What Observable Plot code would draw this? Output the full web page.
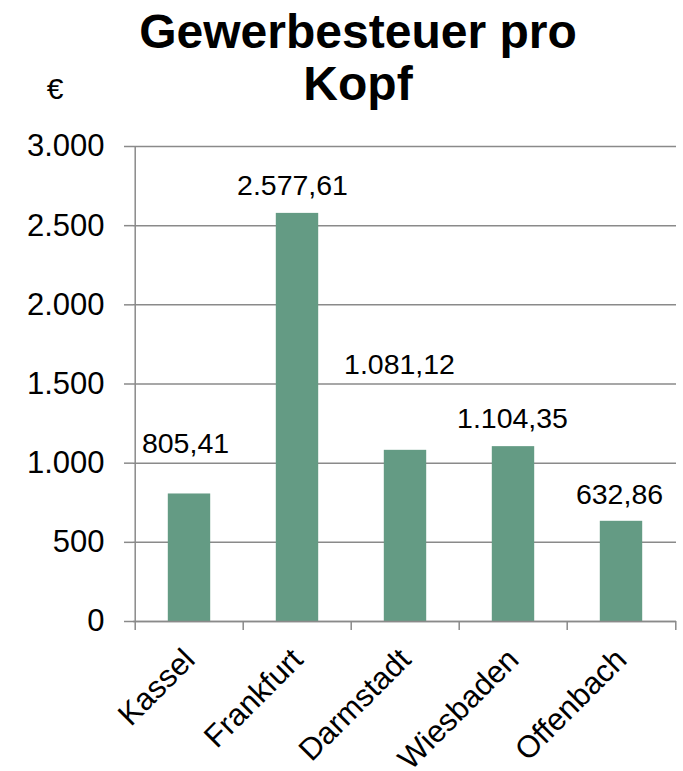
<!DOCTYPE html>
<html><head><meta charset="utf-8">
<script src="https://cdn.jsdelivr.net/npm/d3@7"></script>
<script src="https://cdn.jsdelivr.net/npm/@observablehq/plot@0.6"></script>
<style>body{margin:0;background:#fff}</style>
</head><body><div id="chart"></div>
<script>
// ---- data ----
const cities = ["Kassel", "Frankfurt", "Darmstadt", "Wiesbaden", "Offenbach"];
const values = [805.41, 2577.61, 1081.12, 1104.35, 632.86];
const yTicks = [0, 500, 1000, 1500, 2000, 2500, 3000];
const titleLines = ["Gewerbesteuer pro", "Kopf"];
const unitLabel = "€";

// ---- layout / style ----
const W = 683, H = 771, mL = 133, mR = 7, mT = 146, mB = 150;
const bw = (W - mL - mR) / cities.length;
const barW = 43;
const labelNudge = [[-4, -50], [-5, -28], [-6, -85], [-1, -28], [-2, -26]];
const font = "'Liberation Sans', Arial, sans-serif";
const gray = "#8a8a8a";
const barColor = "#649b84";

const de = d3.formatLocale({decimal: ",", thousands: ".", grouping: [3], currency: ["", "€"]});
const fmtTick = de.format(",d");
const fmtVal = de.format(",.2f");

const data = cities.map((c, i) => ({city: c, value: values[i]}));

const labelMarks = data.map((d, i) => Plot.text([d], {
  x: "city", y: "value", text: r => fmtVal(r.value),
  dx: labelNudge[i][0], dy: labelNudge[i][1], fontSize: 28.5, fill: "#000"
}));

const plot = Plot.plot({
  width: W, height: H,
  marginLeft: mL, marginRight: mR, marginTop: mT, marginBottom: mB,
  style: {fontFamily: font, background: "#fff", color: "#000"},
  x: {domain: cities, padding: 0, label: null, axis: null},
  y: {domain: [0, 3000], label: null, axis: null},
  marks: [
    Plot.gridY(yTicks, {stroke: gray, strokeOpacity: 1, strokeWidth: 1.5}),
    Plot.barY(data, {x: "city", y: "value", fill: barColor,
      insetLeft: (bw - barW) / 2, insetRight: (bw - barW) / 2}),
    Plot.axisY(yTicks, {tickFormat: fmtTick, tickSize: 9, tickPadding: 20, fontSize: 31,
      stroke: gray, strokeWidth: 1.5, strokeOpacity: 1, label: null, color: "#000", fill: "#000"}),
    Plot.ruleX([cities[0]], {dx: -bw / 2, y1: 0, y2: 3000, stroke: gray, strokeWidth: 1.5}),
    Plot.ruleY([0], {stroke: gray, strokeWidth: 1.5}),
    Plot.axisX(cities, {tickSize: 9, dx: -bw / 2, tickFormat: () => "", stroke: gray,
      strokeWidth: 1.5, strokeOpacity: 1, label: null}),
    Plot.axisX([cities[cities.length - 1]], {tickSize: 9, dx: bw / 2, tickFormat: () => "",
      stroke: gray, strokeWidth: 1.5, strokeOpacity: 1, label: null}),
    Plot.text(cities, {x: d => d, y: () => 0, text: d => d, rotate: -45,
      textAnchor: "end", lineAnchor: "middle", dx: 0, dy: 33, fontSize: 31, fill: "#000"}),
    ...labelMarks
  ]
});

const svg = d3.select(plot);
const title = svg.append("text")
  .attr("text-anchor", "middle")
  .attr("font-family", font).attr("font-weight", "bold").attr("font-size", 48)
  .attr("fill", "#000");
titleLines.forEach((t, i) => title.append("tspan").attr("x", 358).attr("y", 48 + i * 52).text(t));
svg.append("text").attr("x", 55).attr("y", 99).attr("text-anchor", "middle")
  .attr("font-family", font).attr("font-size", 30).attr("fill", "#000").text(unitLabel);

document.getElementById("chart").appendChild(plot);
</script>
</body></html>
